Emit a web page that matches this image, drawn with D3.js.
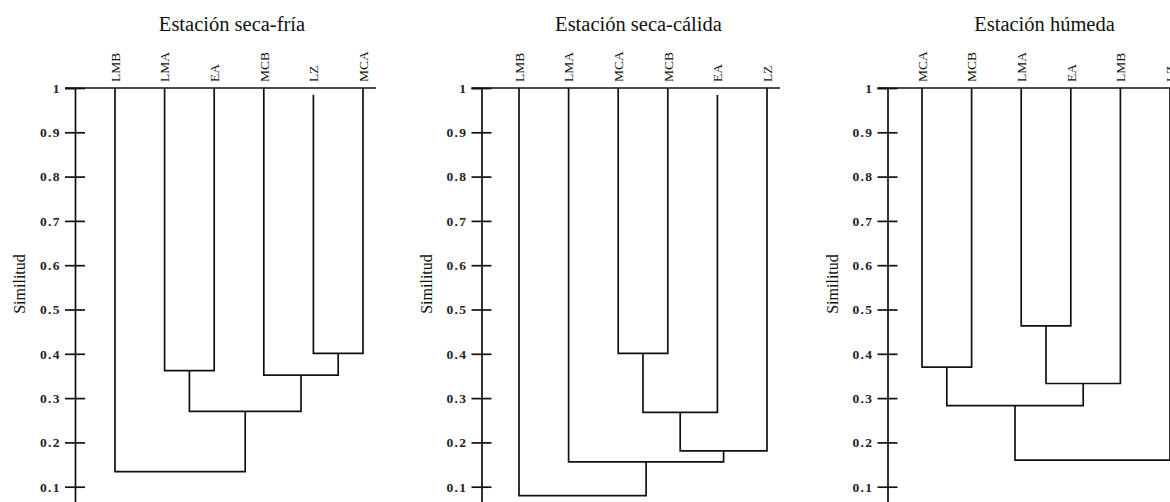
<!DOCTYPE html>
<html><head><meta charset="utf-8">
<script src="https://cdn.jsdelivr.net/npm/d3@7"></script>
<style>
html,body{margin:0;padding:0;background:#fff;}
svg{display:block;}
</style></head>
<body>
<svg id="chart" width="1170" height="502"></svg>
<script>
// ---- data ----
const titles = ["Estación seca-fría", "Estación seca-cálida", "Estación húmeda"];
const yLabel = "Similitud";
const tickValues = [0.1, 0.2, 0.3, 0.4, 0.5, 0.6, 0.7, 0.8, 0.9, 1];

const leavesFria = ["LMB", "LMA", "EA", "MCB", "LZ", "MCA"];
const leafTopFria = [1, 1, 1, 1, 0.985, 1];
const mergesFria = [["LMA", "EA", 0.362], ["LZ", "MCA", 0.401], ["MCB", "c1", 0.352], ["c0", "c2", 0.270], ["LMB", "c3", 0.134]];

const leavesCalida = ["LMB", "LMA", "MCA", "MCB", "EA", "LZ"];
const leafTopCalida = [1, 1, 1, 1, 0.984, 1];
const mergesCalida = [["MCA", "MCB", 0.401], ["c0", "EA", 0.268], ["c1", "LZ", 0.181], ["LMA", "c2", 0.156], ["LMB", "c3", 0.080]];

const leavesHumeda = ["MCA", "MCB", "LMA", "EA", "LMB", "LZ"];
const leafTopHumeda = [1, 1, 1, 1, 1, 1];
const mergesHumeda = [["MCA", "MCB", 0.370], ["LMA", "EA", 0.463], ["c1", "LMB", 0.333], ["c0", "c2", 0.283], ["c3", "LZ", 0.160]];

const panels = [
  {title: titles[0], leaves: leavesFria, tops: leafTopFria, merges: mergesFria},
  {title: titles[1], leaves: leavesCalida, tops: leafTopCalida, merges: mergesCalida},
  {title: titles[2], leaves: leavesHumeda, tops: leafTopHumeda, merges: mergesHumeda}
];

// ---- layout ----
const svg = d3.select("#chart");
svg.append("rect").attr("width", 1170).attr("height", 502).attr("fill", "#fff");
const y = d3.scaleLinear().domain([0, 1]).range([531, 88]);
const axisX = [75, 481.5, 887.5];
const firstLeafOff = [40, 37.5, 34.5];
const leafStep = 49.6;
const serif = "'Liberation Serif','Times New Roman',serif";
const stroke = "#111";
const sw = 1.7;

panels.forEach((p, i) => {
  const ax = axisX[i];
  const g = svg.append("g");
  const x = d3.scalePoint().domain(p.leaves)
    .range([ax + firstLeafOff[i], ax + firstLeafOff[i] + leafStep * (p.leaves.length - 1)]);

  // title
  g.append("text").attr("x", ax + 157).attr("y", 31)
    .attr("text-anchor", "middle").attr("font-family", serif).attr("font-size", 20.5)
    .attr("fill", "#111").text(p.title);

  // y label
  g.append("text").attr("transform", `translate(${ax - 50},284) rotate(-90)`)
    .attr("text-anchor", "middle").attr("font-family", serif).attr("font-size", 16)
    .attr("fill", "#111").text(yLabel);

  // axis
  const axis = d3.axisLeft(y).tickValues(tickValues).tickSizeOuter(0).tickSize(10)
    .tickFormat(d => d === 1 ? "1" : d3.format(".1f")(d)).tickPadding(4);
  const ag = g.append("g").attr("transform", `translate(${ax},0)`).call(axis);
  ag.select(".domain").attr("stroke", stroke).attr("stroke-width", sw);
  ag.selectAll(".tick line").attr("x1", 10).attr("x2", -10).attr("stroke", stroke).attr("stroke-width", sw);
  ag.selectAll(".tick text").attr("x", -14).attr("font-family", serif).attr("font-size", 13.5)
    .attr("font-weight", "bold").attr("letter-spacing", "1.4px").attr("fill", "#222");

  // top line at similarity 1
  const xs = p.leaves.map(l => x(l));
  g.append("line").attr("x1", ax - 10).attr("x2", d3.max(xs) + 13)
    .attr("y1", y(1)).attr("y2", y(1)).attr("stroke", stroke).attr("stroke-width", sw);

  // leaf labels
  g.selectAll(".leaf").data(p.leaves).join("text")
    .attr("transform", d => `translate(${x(d)},82) rotate(-90)`)
    .attr("dy", "0.35em").attr("text-anchor", "start")
    .attr("font-family", serif).attr("font-size", 13.5).attr("fill", "#111").text(d => d);

  // dendrogram
  const nodes = {};
  p.leaves.forEach((l, k) => { nodes[l] = {x: x(l), h: p.tops[k]}; });
  p.merges.forEach((m, k) => {
    const a = nodes[m[0]], b = nodes[m[1]], h = m[2];
    const path = `M${a.x},${y(a.h)}V${y(h)}H${b.x}V${y(b.h)}`;
    g.append("path").attr("d", path).attr("fill", "none")
      .attr("stroke", stroke).attr("stroke-width", sw);
    nodes["c" + k] = {x: (a.x + b.x) / 2, h: h};
  });
});
</script>
</body></html>
